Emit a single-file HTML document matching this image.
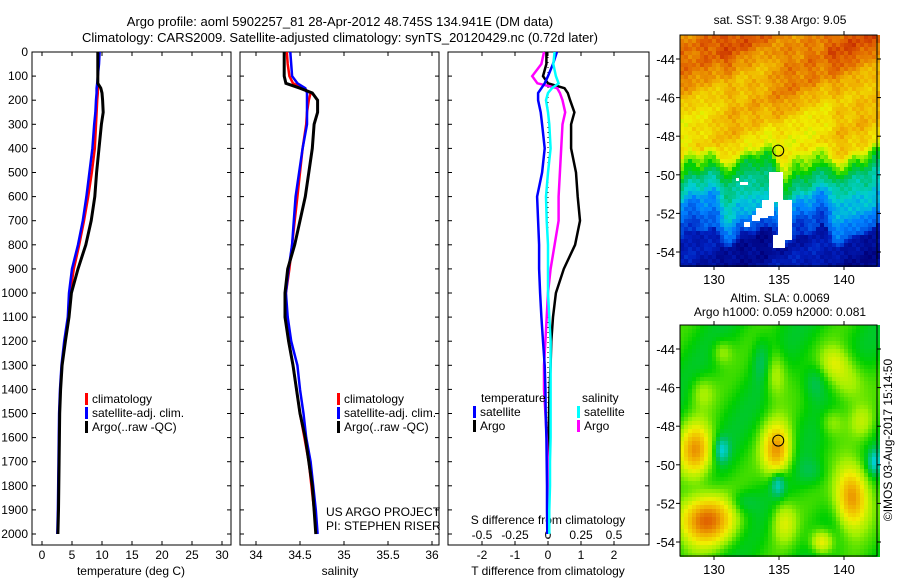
<!DOCTYPE html>
<html><head><meta charset="utf-8"><style>
html,body{margin:0;padding:0;background:#fff;}
svg{display:block;font-family:"Liberation Sans",sans-serif;}
</style></head><body>
<svg id="c" width="900" height="580" viewBox="0 0 900 580">
<text x="340" y="26" text-anchor="middle" font-size="13">Argo profile: aoml 5902257_81 28-Apr-2012 48.745S 134.941E (DM data)</text>
<text x="340" y="42" text-anchor="middle" font-size="13">Climatology: CARS2009. Satellite-adjusted climatology: synTS_20120429.nc (0.72d later)</text>
<text x="780" y="24" text-anchor="middle" font-size="12">sat. SST: 9.38 Argo: 9.05</text>
<text x="780" y="302" text-anchor="middle" font-size="12">Altim. SLA: 0.0069</text>
<text x="780" y="316" text-anchor="middle" font-size="12">Argo h1000: 0.059 h2000: 0.081</text>
<text transform="translate(892,440) rotate(-90)" text-anchor="middle" font-size="12">©IMOS 03-Aug-2017 15:14:50</text>
<g id="g"></g>
</svg>
<script>
const depths=[0,50,100,130,150,170,200,250,300,400,500,600,700,800,900,1000,1100,1200,1300,1400,1500,1600,1700,1800,1900,2000];
const tempClim=[9.4,9.4,9.3,9.3,9.3,9.3,9.2,9.1,9.0,8.8,8.3,7.7,7.0,6.2,5.3,4.7,4.4,3.8,3.3,3.05,2.9,2.85,2.8,2.75,2.7,2.6];
const tempSat=[9.6,9.5,9.3,9.2,9.1,9.1,9.0,8.9,8.7,8.4,7.9,7.4,6.8,6.0,5.0,4.5,4.3,3.7,3.25,3.0,2.85,2.8,2.75,2.7,2.65,2.55];
const tempArgo=[9.3,9.3,9.3,9.3,9.8,10.0,10.1,10.2,9.9,9.5,9.1,8.8,8.2,7.3,6.0,4.9,4.5,3.9,3.35,3.1,2.95,2.9,2.85,2.8,2.75,2.65];
const salClim=[34.35,34.36,34.38,34.42,34.53,34.62,34.60,34.58,34.57,34.53,34.50,34.47,34.44,34.41,34.38,34.34,34.34,34.37,34.42,34.46,34.50,34.55,34.60,34.63,34.66,34.69];
const salSat=[34.39,34.40,34.41,34.47,34.56,34.58,34.58,34.58,34.58,34.53,34.49,34.45,34.43,34.41,34.37,34.34,34.36,34.40,34.47,34.50,34.54,34.57,34.62,34.65,34.68,34.70];
const salArgo=[34.32,34.32,34.32,34.34,34.50,34.64,34.70,34.70,34.66,34.64,34.60,34.56,34.50,34.44,34.36,34.33,34.33,34.37,34.42,34.46,34.50,34.56,34.60,34.64,34.66,34.68];
const dTArgo=[-0.05,-0.05,-0.15,0,0.5,0.6,0.67,0.8,0.7,0.7,0.85,0.9,0.97,0.82,0.48,0.24,0.15,0.1,0.08,0.05,0.03,0.02,0.02,0.03,0.02,0.0];
const dTSat=[0.27,0.15,0,-0.1,-0.2,-0.3,-0.3,-0.22,-0.18,-0.1,-0.18,-0.33,-0.3,-0.27,-0.27,-0.24,-0.2,-0.15,-0.1,-0.08,-0.07,-0.05,-0.04,-0.03,-0.03,-0.02];
const dSSat=[0.05,0.04,0.06,0.08,0.03,0.0,-0.015,0.0,0.01,0.02,0.0,-0.015,-0.01,0,0,0,0.01,0.02,0.02,0.02,0.02,0.02,0.015,0.015,0.01,0.01];
const dSArgo=[-0.03,-0.05,-0.12,-0.08,0.07,0.09,0.11,0.13,0.11,0.10,0.09,0.08,0.08,0.05,0.02,0,-0.01,-0.02,-0.03,-0.03,-0.02,-0.01,0,0,0,0];
const depthTicks=[0,100,200,300,400,500,600,700,800,900,1000,1100,1200,1300,1400,1500,1600,1700,1800,1900,2000];
const tempTicks=[0,5,10,15,20,25,30];
const salTicks=['34','34.5','35','35.5','36'];
const tdTicks=['-2','-1','0','1','2'];
const sdTicks=['-0.5','-0.25','0','0.25','0.5'];
const lonTicks=[130,135,140];
const latTicks=[-44,-46,-48,-50,-52,-54];
const argoLon=134.941, argoLat=-48.745;

const NS='http://www.w3.org/2000/svg';
const G=document.getElementById('g');
function mk(t,a,p){const e=document.createElementNS(NS,t);for(const k in a)e.setAttribute(k,a[k]);(p||G).appendChild(e);return e;}
function txt(x,y,s,anc,fs,p){const e=mk('text',{x:x,y:y,'text-anchor':anc||'middle','font-size':fs||12},p);e.textContent=s;return e;}
const PT=52,PB=545;
const yD=d=>PT+d*0.241;
const xT=t=>42+6*t;
const xS=s=>256+88*(s-34);
const xdT=t=>548+33*t;
const xdS=s=>548+132*s;

function panel(x0,x1,name){
  const r=mk('rect',{x:x0,y:PT,width:x1-x0,height:PB-PT,fill:'#fff',stroke:'#000','stroke-width':1});
  
  
  depthTicks.forEach(d=>{mk('line',{x1:x0,x2:x0+4,y1:yD(d),y2:yD(d),stroke:'#000'});mk('line',{x1:x1-4,x2:x1,y1:yD(d),y2:yD(d),stroke:'#000'});});
}
function series(xs,vals,fx,color,name,w){
  let pts=depths.map((d,i)=>fx(vals[i]).toFixed(1)+','+yD(d).toFixed(1)).join(' ');
  const p=mk('polyline',{points:pts,fill:'none',stroke:color,'stroke-width':w||2.5,'stroke-linejoin':'miter'});
  
  
}
panel(32,231,'temperature-panel');
depthTicks.forEach(d=>{const t=txt(28,yD(d)+4,String(d),'end');});
tempTicks.forEach(v=>{const x=xT(v);mk('line',{x1:x,x2:x,y1:PB,y2:PB-4,stroke:'#000'});mk('line',{x1:x,x2:x,y1:PT,y2:PT+4,stroke:'#000'});const t=txt(x,559,String(v));});
txt(131,575,'temperature (deg C)');
series(depths,tempClim,xT,'#f00','temp-clim-line');
series(depths,tempSat,xT,'#00f','temp-sat-line');
series(depths,tempArgo,xT,'#000','temp-argo-line',3);
function legend(x,y,items,name){
  items.forEach((it,i)=>{mk('rect',{x:x,y:y+i*14-10,width:3,height:12,fill:it[0]});const t=txt(x+7,y+i*14,it[1],'start');});
}
legend(85,403,[['#f00','climatology'],['#00f','satellite-adj. clim.'],['#000','Argo(..raw -QC)']],'temp-legend');
panel(240,439,'salinity-panel');
salTicks.forEach(v=>{const x=xS(parseFloat(v));mk('line',{x1:x,x2:x,y1:PB,y2:PB-4,stroke:'#000'});mk('line',{x1:x,x2:x,y1:PT,y2:PT+4,stroke:'#000'});const t=txt(x,559,v);});
txt(340,575,'salinity');
series(depths,salClim,xS,'#f00','sal-clim-line');
series(depths,salSat,xS,'#00f','sal-sat-line');
series(depths,salArgo,xS,'#000','sal-argo-line',3);
legend(337,403,[['#f00','climatology'],['#00f','satellite-adj. clim.'],['#000','Argo(..raw -QC)']],'sal-legend');
txt(326,516,'US ARGO PROJECT','start');
txt(326,530,'PI: STEPHEN RISER','start');
panel(448,649,'difference-panel');
mk('line',{x1:548,x2:548,y1:PT,y2:PB,stroke:'#000','stroke-dasharray':'1,4'});
tdTicks.forEach(v=>{const x=xdT(parseFloat(v));mk('line',{x1:x,x2:x,y1:PB,y2:PB-4,stroke:'#000'});mk('line',{x1:x,x2:x,y1:PT,y2:PT+4,stroke:'#000'});const t=txt(x,559,v);});
sdTicks.forEach(v=>{const t=txt(xdS(parseFloat(v)),539,v);});
txt(548,524,'S difference from climatology');
txt(548,575,'T difference from climatology');
series(depths,dTArgo,xdT,'#000','tdiff-argo-line');
series(depths,dSArgo,xdS,'#f0f','sdiff-argo-line');
series(depths,dTSat,xdT,'#00f','tdiff-sat-line');
series(depths,dSSat,xdS,'#0ff','sdiff-sat-line');
txt(481,402,'temperature','start');
txt(582,402,'salinity','start');
legend(473,416,[['#00f','satellite'],['#000','Argo']],'tdiff-legend');
legend(577,416,[['#0ff','satellite'],['#f0f','Argo']],'sdiff-legend');

const MX0=680,MX1=877;
const xL=l=>779+13*(l-135);
const stops=[[0,[0,0,122]],[0.12,[0,32,192]],[0.25,[0,128,255]],[0.35,[0,208,208]],[0.45,[0,192,96]],[0.52,[0,208,0]],[0.6,[160,240,0]],[0.68,[240,240,0]],[0.78,[240,176,0]],[0.88,[224,96,0]],[1,[176,0,0]]];
function cmap(v){v=Math.max(0,Math.min(1,v));for(let i=1;i<stops.length;i++){if(v<=stops[i][0]){const a=stops[i-1],b=stops[i],t=(v-a[0])/(b[0]-a[0]);return 'rgb('+a[1].map((c,k)=>Math.round(c+(b[1][k]-c)*t)).join(',')+')';}}return 'rgb(176,0,0)';}
function mapFrame(y0,y1,name,yLat,cells){
  const g=mk('g',{});
  
  
  cells(g);
  mk('rect',{x:MX0,y:y0,width:MX1-MX0,height:y1-y0,fill:'none',stroke:'#000'});
  lonTicks.forEach(l=>{const x=xL(l);mk('line',{x1:x,x2:x,y1:y0-4,y2:y0,stroke:'#000'});mk('line',{x1:x,x2:x,y1:y1,y2:y1+4,stroke:'#000'});const t=txt(x,y1+18,String(l),'middle',13);});
  latTicks.forEach(l=>{const y=yLat(l);mk('line',{x1:MX0-4,x2:MX0,y1:y,y2:y,stroke:'#000'});mk('line',{x1:MX1,x2:MX1+4,y1:y,y2:y,stroke:'#000'});const t=txt(MX0-5,y+5,String(l),'end',13);});
  const c=mk('circle',{cx:xL(argoLon),cy:yLat(argoLat),r:5.5,fill:'none',stroke:'#000'});
  
  
}
const yLatT=l=>59+(-44-l)*19.3;
const yLatB=l=>349+(-44-l)*19.3;
const CS=4;
mapFrame(35,266,'sst-map',yLatT,g=>{
  for(let y=35;y<266;y+=CS)for(let x=MX0;x<MX1;x+=CS){
    const wig=8*Math.sin(x*0.11)+5*Math.sin(x*0.23+1);
    const f=(y+wig-35)/231;
    let v;
    if(f<0.08)v=0.86; else if(f<0.5)v=0.84-0.36*(f-0.08); else if(f<0.56)v=0.67-(f-0.5)*2.5; else if(f<0.68)v=0.52-(f-0.56)*1.3; else if(f<0.86)v=0.36-(f-0.68)*1.2; else v=0.07;
    v+=0.03*Math.sin(x*0.21+y*0.13)*Math.cos(y*0.17-x*0.09)+0.04*Math.sin(x*0.05+y*0.07)+0.02*Math.sin(x*0.9+y*0.6);
    mk('rect',{x:x,y:y,width:CS,height:CS,fill:cmap(v)},g);
  }
  [[769,172,14,30],[762,200,12,16],[756,208,12,10],[778,200,14,40],[773,235,12,13],[752,215,8,6],[744,222,6,5],[736,178,3,3],[740,182,8,3]].forEach(r=>mk('rect',{x:r[0],y:r[1],width:r[2],height:r[3],fill:'#fff'},g));
});
mapFrame(325,556,'sla-map',yLatB,g=>{
  const blobs=[[694,449,16,26,0.8],[775,448,14,26,0.8],[850,495,16,30,0.84],[703,518,28,24,0.86],[773,372,12,24,0.64],[845,378,18,22,0.64],[832,360,14,16,0.62],[782,520,12,20,0.64],[820,540,11,12,0.7],[720,350,10,12,0.6],[700,390,12,16,0.6],[830,420,12,14,0.6],[860,420,12,16,0.6]];
  const holes=[[720,448,7,12,0.36],[776,482,7,12,0.36],[873,460,7,12,0.36],[760,360,9,22,0.44],[813,380,12,18,0.44],[740,500,14,12,0.45],[810,470,14,14,0.46]];
  for(let y=325;y<556;y+=CS)for(let x=MX0;x<MX1;x+=CS){
    let v=0.52+0.03*Math.sin(x*0.08+y*0.05);
    blobs.forEach(b=>{const d=((x-b[0])/b[2])**2+((y-b[1])/b[3])**2;v+=(b[4]-0.52)*Math.exp(-d);});
    holes.forEach(b=>{const d=((x-b[0])/b[2])**2+((y-b[1])/b[3])**2;v+=(b[4]-0.52)*Math.exp(-d);});
    mk('rect',{x:x,y:y,width:CS,height:CS,fill:cmap(v)},g);
  }
});
</script>
</body></html>
